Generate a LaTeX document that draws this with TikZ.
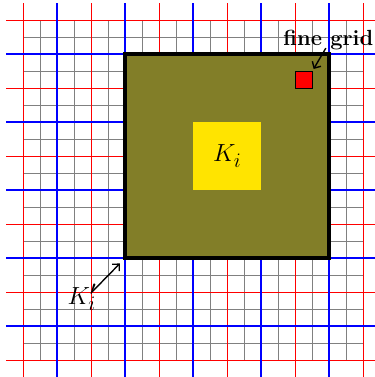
\documentclass[tikz,border=0pt]{standalone}
\usetikzlibrary{arrows.meta}
\definecolor{olivebox}{RGB}{130,126,40}
\definecolor{yellowbox}{RGB}{255,228,0}
\begin{document}
\begin{tikzpicture}[x=0.6cm,y=-0.6cm,
  fineline/.style={gray,line width=0.9pt},
  redline/.style={red,line width=0.9pt},
  blueline/.style={blue,line width=2.1pt},
  pointer/.style={line width=1.4pt,-{Straight Barb[length=5pt,width=10pt]}}]
\useasboundingbox (-1.37,-1.18) rectangle (20.69,21.0);
\clip (-1.37,-1.18) rectangle (20.69,21.0);
% fine grid
\foreach \i in {0,...,20}{
  \draw[fineline] (\i,0) -- (\i,20);
  \draw[fineline] (0,\i) -- (20,\i);
}
% red grid
\foreach \i in {0,2,...,20}{
  \draw[redline] (\i,-1) -- (\i,21);
  \draw[redline] (-1,\i) -- (21,\i);
}
% blue grid
\foreach \i in {2,6,...,18}{
  \draw[blueline] (\i,-1) -- (\i,21);
  \draw[blueline] (-1,\i) -- (21,\i);
}
% boxes
\node[draw=black,line width=3.8pt,fill=olivebox,minimum width=7.2cm,minimum height=7.2cm,inner sep=0pt] (big) at (12,8) {};
\node[fill=yellowbox,minimum width=2.4cm,minimum height=2.4cm,inner sep=0pt,font=\fontsize{28}{33}\selectfont] (ki) at (12,8) {$K_i$};
\node[draw=black,line width=0.8pt,fill=red,minimum width=0.6cm,minimum height=0.6cm,inner sep=0pt] (rsq) at (16.5,3.5) {};
% labels
\node[anchor=base,inner sep=0pt,font=\fontsize{22}{26}\selectfont\bfseries] (fg) at (17.95,1.47) {fine grid};
\node[inner sep=0pt,font=\fontsize{28}{33}\selectfont] (kp) at (3.45,16.3) {$K_i'$};
\coordinate (fgs) at (17.8,1.65);
\coordinate (kps) at (4.04,16.0);
\draw[pointer,shorten >=2pt] (fgs) -- (rsq.north east);
\draw[pointer,shorten >=5pt] (kps) -- (big.south west);
\end{tikzpicture}
\end{document}
